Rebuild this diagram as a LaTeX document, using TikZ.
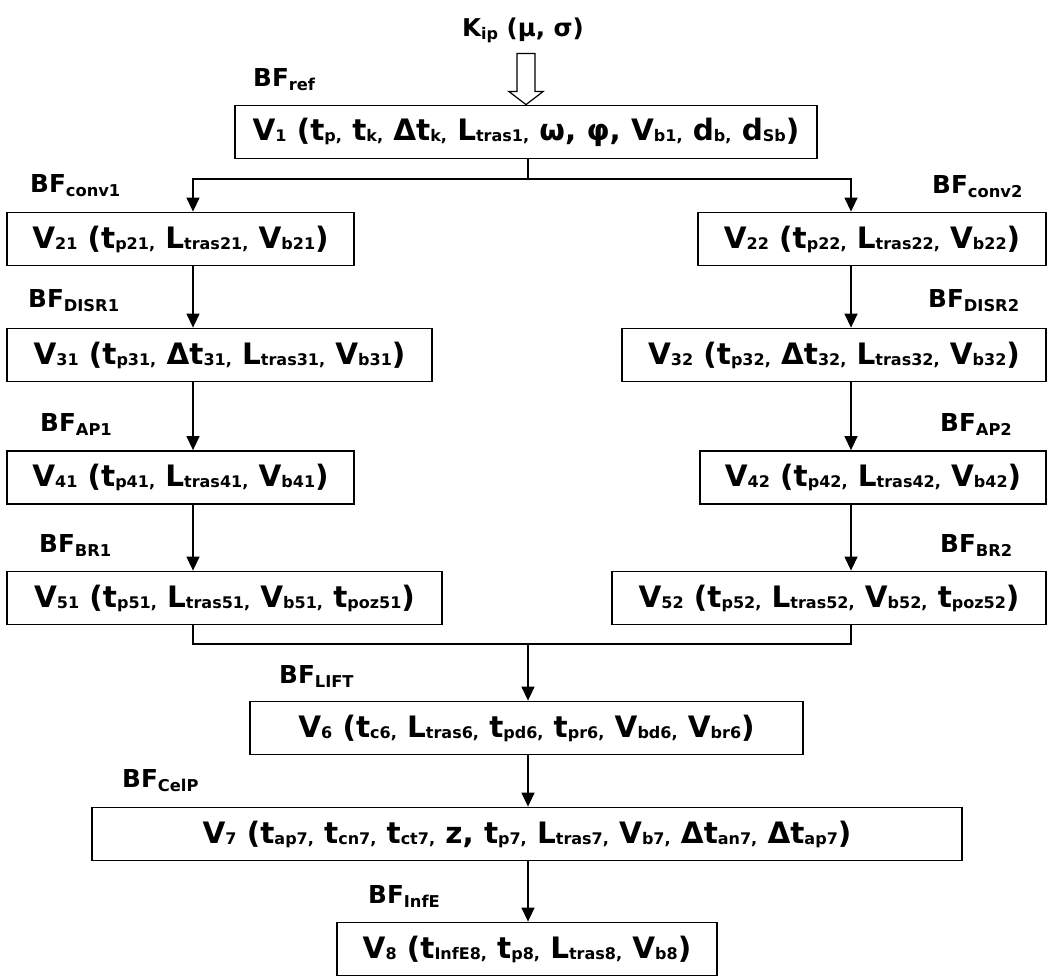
\documentclass[tikz,border=0pt]{standalone}
\usepackage{fontspec}
\setmainfont{DejaVu Sans}
\usetikzlibrary{arrows.meta,calc}

% lowered small text for indices; size and drop are set by the node style
\newcommand\lo[1]{\raisebox{-\subdrop}{\fontsize{\subsize}{\subsize}\selectfont #1}}

\tikzset{
  varbox/.style={draw, line width=1.8pt, minimum height=53pt, inner sep=0pt,
    anchor=center, fill=white,
    font={\fontsize{29.5}{34}\selectfont\bfseries\def\subsize{16}\def\subdrop{1pt}}},
  bflabel/.style={anchor=base west, inner sep=0pt,
    font={\fontsize{24.7}{28}\selectfont\bfseries\def\subsize{16.3}\def\subdrop{4pt}}},
  link/.style={line width=1.4pt},
  flow/.style={link, -{Triangle[width=13pt,length=14pt]}},
}

\begin{document}
\begin{tikzpicture}[x=1pt, y=-1pt]
\fill[white] (0,0) rectangle (1048,976);
\useasboundingbox (0,0) rectangle (1048,976);

% column guides
\coordinate (L) at (193,0);
\coordinate (R) at (851,0);
\coordinate (C) at (528,0);
\coordinate (split) at (528,179);
\coordinate (join) at (528,644);

% input
\node[bflabel, anchor=base, font={\fontsize{24.5}{28}\selectfont\bfseries\def\subsize{16}\def\subdrop{3pt}}]
  (kip) at (523,37) {K\lo{ip} (μ, σ)};

% variable blocks
\node[varbox, minimum width=582pt] (v1) at (526,132)
  {V\lo{1} (t\lo{p,} t\lo{k,} Δt\lo{k,} L\lo{tras1,} ω, φ, V\lo{b1,} d\lo{b,} d\lo{Sb})};
\node[varbox, minimum width=347pt] (v21) at (180.5,239)
  {V\lo{21} (t\lo{p21,} L\lo{tras21,} V\lo{b21})};
\node[varbox, minimum width=348pt] (v22) at (872,239)
  {V\lo{22} (t\lo{p22,} L\lo{tras22,} V\lo{b22})};
\node[varbox, minimum width=425pt] (v31) at (219.5,355)
  {V\lo{31} (t\lo{p31,} Δt\lo{31,} L\lo{tras31,} V\lo{b31})};
\node[varbox, minimum width=424pt] (v32) at (834,355)
  {V\lo{32} (t\lo{p32,} Δt\lo{32,} L\lo{tras32,} V\lo{b32})};
\node[varbox, minimum width=347pt] (v41) at (180.5,477.5)
  {V\lo{41} (t\lo{p41,} L\lo{tras41,} V\lo{b41})};
\node[varbox, minimum width=346pt] (v42) at (873,477.5)
  {V\lo{42} (t\lo{p42,} L\lo{tras42,} V\lo{b42})};
\node[varbox, minimum width=435pt] (v51) at (224.5,598)
  {V\lo{51} (t\lo{p51,} L\lo{tras51,} V\lo{b51,} t\lo{poz51})};
\node[varbox, minimum width=434pt] (v52) at (829,598)
  {V\lo{52} (t\lo{p52,} L\lo{tras52,} V\lo{b52,} t\lo{poz52})};
\node[varbox, minimum width=553pt] (v6) at (526.5,728)
  {V\lo{6} (t\lo{c6,} L\lo{tras6,} t\lo{pd6,} t\lo{pr6,} V\lo{bd6,} V\lo{br6})};
\node[varbox, minimum width=870pt] (v7) at (527,834)
  {V\lo{7} (t\lo{ap7,} t\lo{cn7,} t\lo{ct7,} z, t\lo{p7,} L\lo{tras7,} V\lo{b7,} Δt\lo{an7,} Δt\lo{ap7})};
\node[varbox, minimum width=380pt] (v8) at (527,949)
  {V\lo{8} (t\lo{InfE8,} t\lo{p8,} L\lo{tras8,} V\lo{b8})};

% block function labels
\node[bflabel] (bfref)   at (253,87)  {BF\lo{ref}};
\node[bflabel] (bfconv1) at (30,193)  {BF\lo{conv1}};
\node[bflabel] (bfconv2) at (932,194) {BF\lo{conv2}};
\node[bflabel] (bfdisr1) at (28,307)  {BF\lo{DISR1}};
\node[bflabel] (bfdisr2) at (928,307) {BF\lo{DISR2}};
\node[bflabel] (bfap1)   at (40,431)  {BF\lo{AP1}};
\node[bflabel] (bfap2)   at (940,431) {BF\lo{AP2}};
\node[bflabel] (bfbr1)   at (39,552)  {BF\lo{BR1}};
\node[bflabel] (bfbr2)   at (940,552) {BF\lo{BR2}};
\node[bflabel] (bflift)  at (279,683) {BF\lo{LIFT}};
\node[bflabel] (bfcelp)  at (122,787) {BF\lo{CelP}};
\node[bflabel] (bfinfe)  at (368,903) {BF\lo{InfE}};

% hollow input arrow into V1
\draw[line width=1.2pt, fill=white]
  ($(v1.north)+(-9,-51)$) -- ($(v1.north)+(9,-51)$) -- ($(v1.north)+(9,-13)$)
  -- ($(v1.north)+(17,-13)$) -- (v1.north) -- ($(v1.north)+(-17,-13)$)
  -- ($(v1.north)+(-9,-13)$) -- cycle;

% split into two branches
\draw[link] (v1.south -| C) -- (split);
\draw[flow] (split) -| (v21.north -| L);
\draw[flow] (split) -| (v22.north -| R);

% left branch
\draw[flow] (v21.south -| L) -- (v31.north -| L);
\draw[flow] (v31.south -| L) -- (v41.north -| L);
\draw[flow] (v41.south -| L) -- (v51.north -| L);

% right branch
\draw[flow] (v22.south -| R) -- (v32.north -| R);
\draw[flow] (v32.south -| R) -- (v42.north -| R);
\draw[flow] (v42.south -| R) -- (v52.north -| R);

% merge and common chain
\draw[link] (v51.south -| L) |- (join) -| (v52.south -| R);
\draw[flow] (join) -- (v6.north -| C);
\draw[flow] (v6.south -| C) -- (v7.north -| C);
\draw[flow] (v7.south -| C) -- (v8.north -| C);
\end{tikzpicture}
\end{document}
